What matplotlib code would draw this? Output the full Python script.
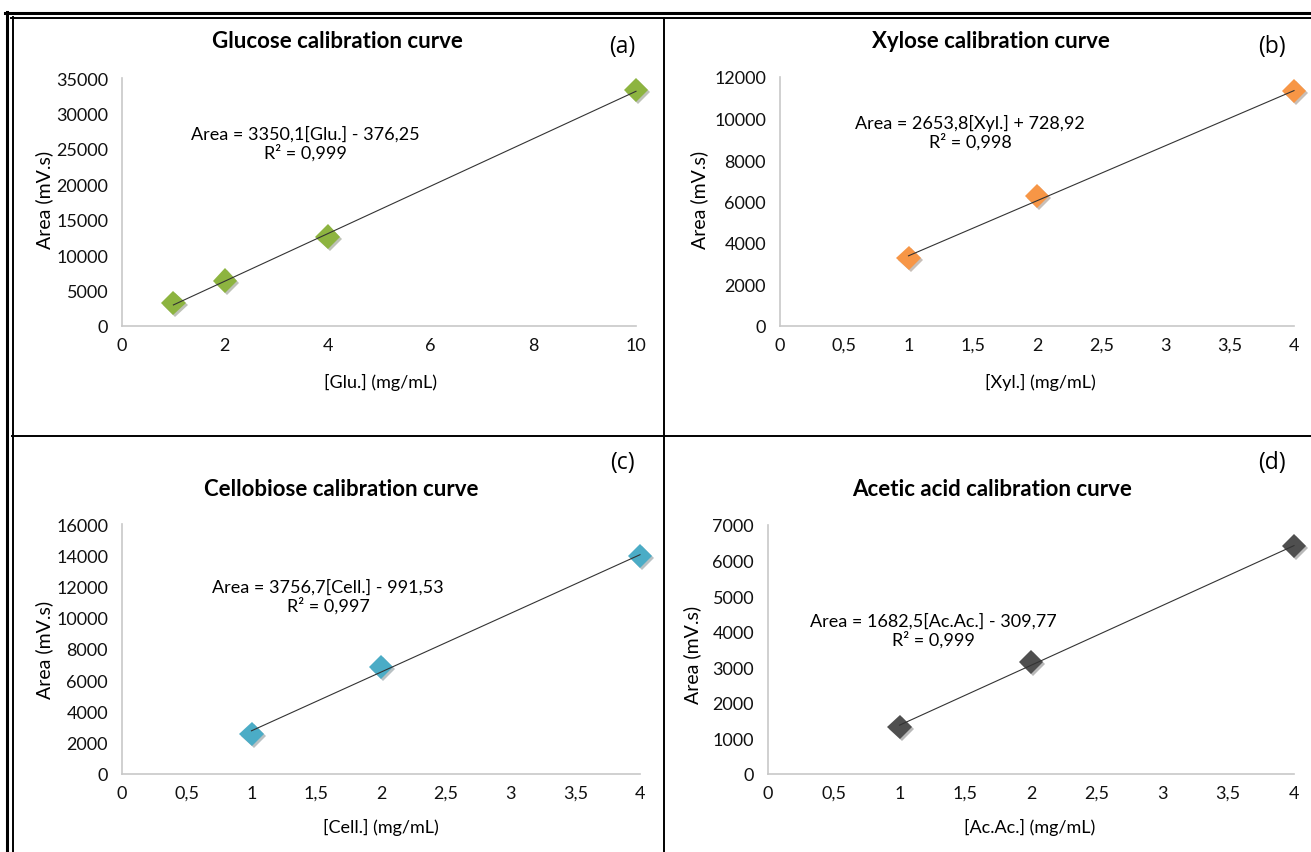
import numpy as np
import matplotlib
matplotlib.use("Agg")
import matplotlib.pyplot as plt
import matplotlib.patheffects as pe
from matplotlib.lines import Line2D
from matplotlib.ticker import FuncFormatter

plt.rcParams['font.family'] = ['Lato', 'DejaVu Sans']

# data
glu_conc = [1, 2, 4, 10]
glu_area = [3250, 6400, 12600, 33300]
xyl_conc = [1, 2, 4]
xyl_area = [3280, 6270, 11330]
cel_conc = [1, 2, 4]
cel_area = [2560, 6850, 13950]
aca_conc = [1, 2, 4]
aca_area = [1320, 3150, 6410]

# fitted trendlines (slope, intercept) as printed on the chart
glu_fit = (3350.1, -376.25)
xyl_fit = (2653.8, 728.92)
cel_fit = (3756.7, -991.53)
aca_fit = (1682.5, -309.77)

W, H = 1311, 853
fig = plt.figure(figsize=(W / 100, H / 100), dpi=100)


def px_axes(left, top, right, bottom):
    return fig.add_axes([left / W, 1 - bottom / H, (right - left) / W, (bottom - top) / H])


def comma(v, pos):
    return f"{v:g}".replace('.', ',')


panels = [
    dict(box=(122, 79, 636, 327), x=glu_conc, y=glu_area, fit=glu_fit, color='#8DB440',
         xlim=(0, 10), xticks=np.arange(0, 11, 2), ylim=(0, 35000), yticks=np.arange(0, 35001, 5000),
         title='Glucose calibration curve', title_xy=(337, 42), tag='(a)', tag_xy=(622, 47),
         xlabel='[Glu.] (mg/mL)', xlabel_xy=(380, 382), ylabel_xy=(44, 200),
         eq='Area = 3350,1[Glu.] - 376,25\nR² = 0,999', eq_xy=(305, 144)),
    dict(box=(780, 78, 1294, 327), x=xyl_conc, y=xyl_area, fit=xyl_fit, color='#F79646',
         xlim=(0, 4), xticks=np.arange(0, 4.01, 0.5), ylim=(0, 12000), yticks=np.arange(0, 12001, 2000),
         title='Xylose calibration curve', title_xy=(991, 42), tag='(b)', tag_xy=(1272, 47),
         xlabel='[Xyl.] (mg/mL)', xlabel_xy=(1040, 382), ylabel_xy=(699, 200),
         eq='Area = 2653,8[Xyl.] + 728,92\nR² = 0,998', eq_xy=(970, 133)),
    dict(box=(122, 525, 640, 775), x=cel_conc, y=cel_area, fit=cel_fit, color='#4BACC6',
         xlim=(0, 4), xticks=np.arange(0, 4.01, 0.5), ylim=(0, 16000), yticks=np.arange(0, 16001, 2000),
         title='Cellobiose calibration curve', title_xy=(341, 490), tag='(c)', tag_xy=(622, 463),
         xlabel='[Cell.] (mg/mL)', xlabel_xy=(381, 827), ylabel_xy=(44, 650),
         eq='Area = 3756,7[Cell.] - 991,53\nR² = 0,997', eq_xy=(328, 597)),
    dict(box=(768, 526, 1294, 775), x=aca_conc, y=aca_area, fit=aca_fit, color='#4F4F4F',
         xlim=(0, 4), xticks=np.arange(0, 4.01, 0.5), ylim=(0, 7000), yticks=np.arange(0, 7001, 1000),
         title='Acetic acid calibration curve', title_xy=(992, 490), tag='(d)', tag_xy=(1272, 463),
         xlabel='[Ac.Ac.] (mg/mL)', xlabel_xy=(1030, 827), ylabel_xy=(692, 655),
         eq='Area = 1682,5[Ac.Ac.] - 309,77\nR² = 0,999', eq_xy=(933, 631)),
]

for p in panels:
    ax = px_axes(*p['box'])
    xs = np.array(p['x'], dtype=float)
    slope, icpt = p['fit']
    xl = np.array([xs.min(), xs.max()])
    ax.plot(xs, p['y'], linestyle='none', marker='D', markersize=12.5, color=p['color'],
            markeredgewidth=0, zorder=3, clip_on=False,
            path_effects=[pe.SimplePatchShadow(offset=(1.5, -1.5), alpha=0.3), pe.Normal()])
    ax.plot(xl, slope * xl + icpt, color='#333333', lw=0.8, zorder=4, clip_on=False)

    ax.set_xlim(*p['xlim'])
    ax.set_ylim(*p['ylim'])
    ax.set_xticks(p['xticks'])
    ax.set_yticks(p['yticks'])
    ax.xaxis.set_major_formatter(FuncFormatter(comma))
    ax.yaxis.set_major_formatter(FuncFormatter(comma))
    ax.tick_params(length=0, labelsize=13, colors='#111111')
    ax.tick_params(axis='x', pad=8)
    ax.tick_params(axis='y', pad=10)
    for s in ['top', 'right']:
        ax.spines[s].set_visible(False)
    for s in ['left', 'bottom']:
        ax.spines[s].set_color('#C8C8C8')
        ax.spines[s].set_linewidth(1.2)
    ax.patch.set_alpha(0)

    fig.text(p['title_xy'][0] / W, 1 - p['title_xy'][1] / H, p['title'], ha='center', va='center',
             fontsize=16, fontweight='bold')
    fig.text(p['tag_xy'][0] / W, 1 - p['tag_xy'][1] / H, p['tag'], ha='center', va='center',
             fontsize=16.5, family=['Open Sans', 'DejaVu Sans'])
    fig.text(p['xlabel_xy'][0] / W, 1 - p['xlabel_xy'][1] / H, p['xlabel'], ha='center', va='center',
             fontsize=13)
    fig.text(p['ylabel_xy'][0] / W, 1 - p['ylabel_xy'][1] / H, 'Area (mV.s)', ha='center', va='center',
             fontsize=14, rotation=90)
    fig.text(p['eq_xy'][0] / W, 1 - p['eq_xy'][1] / H, p['eq'], ha='center', va='center',
             fontsize=13, linespacing=1.1)


# frame lines of the figure (double border top/left, dividers)
def hline(y, x0, x1, lw):
    fig.add_artist(Line2D([x0 / W, x1 / W], [1 - y / H, 1 - y / H], color='black', lw=lw))


def vline(x, y0, y1, lw):
    fig.add_artist(Line2D([x / W, x / W], [1 - y0 / H, 1 - y1 / H], color='black', lw=lw))


hline(14, 5, W, 2.2)
hline(19, 11, W, 1.4)
vline(7, 13, H, 2.2)
vline(12.5, 18, H, 1.4)
vline(664, 19, H, 1.4)
hline(437, 12, W, 1.4)

fig.savefig('out.png', dpi=100)
